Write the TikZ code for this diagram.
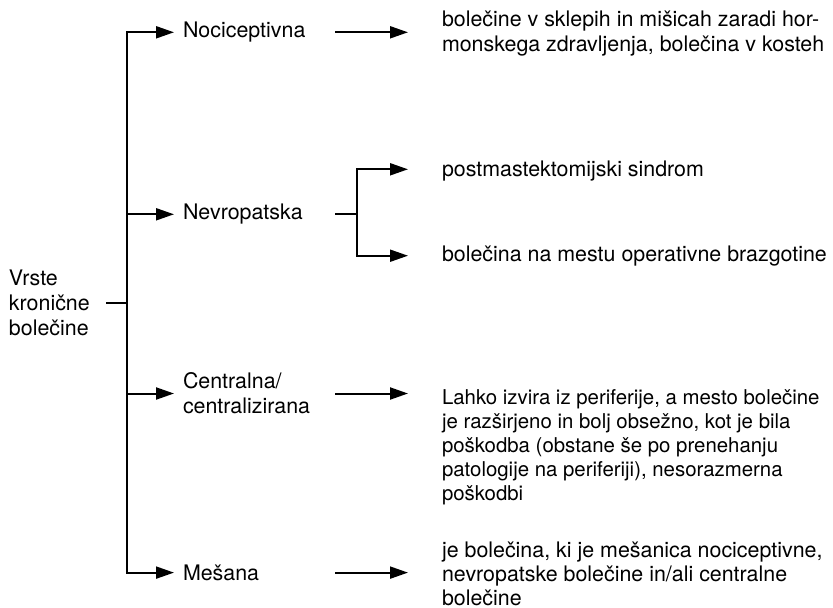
\documentclass[tikz,border=0pt]{standalone}
\usepackage{fontspec}
\setmainfont{TeX Gyre Heros}
\usetikzlibrary{arrows.meta}
\tikzset{
  txt/.style={inner sep=0pt, outer sep=0pt, align=left, anchor=base west,
    font=\fontsize{21.4pt}{24pt}\selectfont},
  line/.style={line width=2pt, line join=miter},
  arr/.style={line, -{Triangle[length=18pt,width=12pt]}},
  arrboth/.style={line, {Triangle[length=18pt,width=12pt]}-{Triangle[length=18pt,width=12pt]}},
}
\begin{document}
\begin{tikzpicture}[x=1pt,y=-1pt]
\useasboundingbox (0,0) rectangle (833,608);
% texts (base anchor = baseline of the last line)
\node[txt, font=\fontsize{21.4pt}{25pt}\selectfont] (root) at (9,335) {Vrste\\kronične\\bolečine};
\node[txt] (n1) at (183,37.7) {Nociceptivna};
\node[txt] (n2) at (183,219.7) {Nevropatska};
\node[txt, font=\fontsize{21.4pt}{25.5pt}\selectfont] (n3) at (183,413.8) {Centralna/\\centralizirana};
\node[txt] (n4) at (183,580) {Mešana};
\node[txt, font=\fontsize{21.4pt}{25pt}\selectfont] (r1) at (442,51.7) {bolečine v sklepih in mišicah zaradi hor-\\monskega zdravljenja, bolečina v kosteh};
\node[txt] (r2a) at (442,176.7) {postmastektomijski sindrom};
\node[txt] (r2b) at (442,261.7) {bolečina na mestu operativne brazgotine};
\node[txt, font=\fontsize{20.4pt}{24pt}\selectfont] (r3) at (442,500.3) {Lahko izvira iz periferije, a mesto bolečine\\je razširjeno in bolj obsežno, kot je bila\\poškodba (obstane še po prenehanju\\patologije na periferiji), nesorazmerna\\poškodbi};
\node[txt] (r4) at (442,605.3) {je bolečina, ki je mešanica nociceptivne,\\nevropatske bolečine in/ali centralne\\bolečine};
% junction points
\coordinate (R) at (106,303);
\coordinate (J0) at (127,303);
\coordinate (J1) at (127,32.3);
\coordinate (J2) at (127,214.3);
\coordinate (J3) at (127,393.5);
\coordinate (J4) at (127,572.6);
\coordinate (S1) at (335,32.3);
\coordinate (S2) at (335,214.3);
\coordinate (S3) at (335,393.5);
\coordinate (S4) at (335,572.6);
\coordinate (B2a) at (357,169.3);
\coordinate (B2b) at (357,255.7);
% connectors
\draw[line] (R) -- (J0);
\draw[arrboth, shorten <=9pt, shorten >=9pt] (J1 -| n1.west) -- (J1) -- (J4) -- (J4 -| n4.west);
\draw[arr, shorten >=9pt] (J2) -- (J2 -| n2.west);
\draw[arr, shorten >=9pt] (J3) -- (J3 -| n3.west);
\draw[arr, shorten >=34pt] (S1) -- (S1 -| r1.west);
\draw[arr, shorten >=34pt] (S3) -- (S3 -| r3.west);
\draw[arr, shorten >=34pt] (S4) -- (S4 -| r4.west);
\draw[line] (S2) -- (S2 -| B2a);
\draw[arrboth, shorten <=34pt, shorten >=34pt] (B2a -| r2a.west) -- (B2a) -- (B2b) -- (B2b -| r2b.west);
\end{tikzpicture}
\end{document}
